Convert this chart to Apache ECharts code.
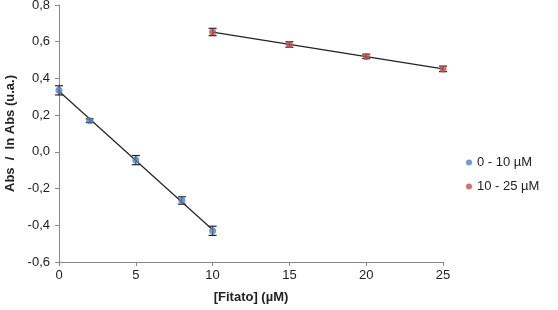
<!DOCTYPE html>
<html>
<head>
<meta charset="utf-8">
<script src="https://cdn.jsdelivr.net/npm/echarts@6/dist/echarts.min.js"></script>
<style>
  html, body { margin: 0; padding: 0; background: #fff; }
  #chart { width: 558px; height: 310px; }
</style>
</head>
<body>
<div id="chart"></div>
<script>
// 数据
var x1 = [0, 2, 5, 8, 10];
var y1 = [0.335, 0.17, -0.045, -0.265, -0.43];
var err1 = [0.025, 0.01, 0.025, 0.02, 0.025];

var x2 = [10, 15, 20, 25];
var y2 = [0.653, 0.585, 0.52, 0.452];
var err2 = [0.02, 0.015, 0.012, 0.015];

var seriesNames = ['0 - 10 µM', '10 - 25 µM'];
var colors = ['#4F81BD', '#C0504D'];

// 线性回归 (趋势线)
function fit(xs, ys) {
    var n = xs.length, mx = 0, my = 0;
    for (var i = 0; i < n; i++) { mx += xs[i]; my += ys[i]; }
    mx /= n; my /= n;
    var sxy = 0, sxx = 0;
    for (var j = 0; j < n; j++) {
        sxy += (xs[j] - mx) * (ys[j] - my);
        sxx += (xs[j] - mx) * (xs[j] - mx);
    }
    var k = sxy / sxx, b = my - k * mx;
    var x0 = xs[0], x1e = xs[n - 1];
    return [[x0, k * x0 + b], [x1e, k * x1e + b]];
}

function pts(xs, ys) {
    return xs.map(function (x, i) { return [x, ys[i]]; });
}

function errData(xs, ys, es) {
    return xs.map(function (x, i) { return [x, ys[i] - es[i], ys[i] + es[i]]; });
}

function errRender(params, api) {
    var lo = api.coord([api.value(0), api.value(1)]);
    var hi = api.coord([api.value(0), api.value(2)]);
    var w = 4;
    var st = { stroke: '#222', lineWidth: 1.2 };
    return {
        type: 'group',
        children: [
            { type: 'line', shape: { x1: lo[0], y1: lo[1], x2: hi[0], y2: hi[1] }, style: st },
            { type: 'line', shape: { x1: lo[0] - w, y1: lo[1], x2: lo[0] + w, y2: lo[1] }, style: st },
            { type: 'line', shape: { x1: hi[0] - w, y1: hi[1], x2: hi[0] + w, y2: hi[1] }, style: st }
        ]
    };
}

var fmt = function (v) { return v.toFixed(1).replace('.', ','); };
var font = 'Liberation Sans, Arial, sans-serif';
var axisFont = { fontFamily: font, fontSize: 13, color: '#222' };

var chart = echarts.init(document.getElementById('chart'));

var option = {
    animation: false,
    grid: { left: 59, right: 115, top: 5, bottom: 48, containLabel: false, outerBoundsMode: 'none' },
    legend: {
        orient: 'vertical',
        left: 461,
        top: 151,
        itemWidth: 6,
        itemHeight: 6,
        itemGap: 11,
        icon: 'circle',
        textStyle: { fontFamily: font, fontSize: 13, color: '#222' },
        data: seriesNames
    },
    xAxis: {
        type: 'value',
        min: 0, max: 25, interval: 5,
        name: '[Fitato] (µM)',
        nameLocation: 'middle',
        nameGap: 29,
        nameTextStyle: { fontFamily: font, fontSize: 13, fontWeight: 'bold', color: '#222' },
        axisLine: { onZero: false, lineStyle: { color: '#888' } },
        axisTick: { show: true, length: 4, lineStyle: { color: '#888' } },
        axisLabel: Object.assign({ margin: 7 }, axisFont),
        splitLine: { show: false }
    },
    yAxis: {
        type: 'value',
        min: -0.6, max: 0.8, interval: 0.2,
        name: 'Abs  /  ln Abs (u.a.)',
        nameLocation: 'middle',
        nameGap: 38,
        nameTextStyle: { fontFamily: font, fontSize: 13, fontWeight: 'bold', color: '#222' },
        axisLine: { show: true, lineStyle: { color: '#888' } },
        axisTick: { show: true, length: 4, lineStyle: { color: '#888' } },
        axisLabel: Object.assign({ margin: 9, formatter: fmt }, axisFont),
        splitLine: { show: false }
    },
    series: [
        {
            type: 'line', data: fit(x1, y1), symbol: 'none', silent: true,
            lineStyle: { color: '#222', width: 1.2 }, z: 2
        },
        {
            type: 'line', data: fit(x2, y2), symbol: 'none', silent: true,
            lineStyle: { color: '#222', width: 1.2 }, z: 2
        },
        {
            type: 'custom', data: errData(x1, y1, err1), renderItem: errRender, z: 3,
            encode: { x: 0, y: [1, 2] }
        },
        {
            type: 'custom', data: errData(x2, y2, err2), renderItem: errRender, z: 3,
            encode: { x: 0, y: [1, 2] }
        },
        {
            name: seriesNames[0], type: 'scatter', data: pts(x1, y1),
            symbolSize: 7, itemStyle: { color: colors[0] }, z: 4
        },
        {
            name: seriesNames[1], type: 'scatter', data: pts(x2, y2),
            symbolSize: 7, itemStyle: { color: colors[1] }, z: 4
        }
    ]
};

chart.setOption(option);
</script>
</body>
</html>
